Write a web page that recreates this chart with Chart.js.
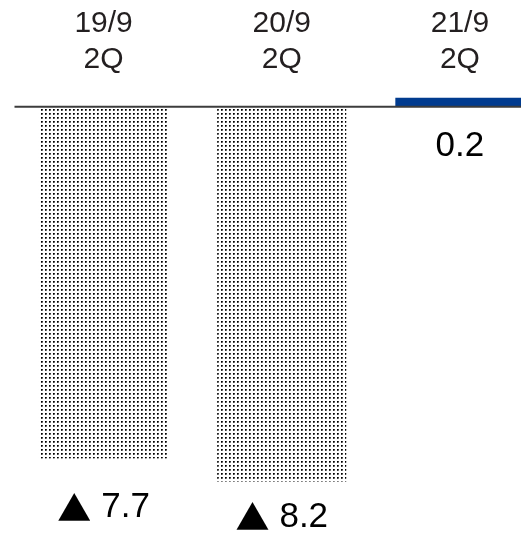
<!DOCTYPE html>
<html>
<head>
<meta charset="utf-8">
<script src="https://cdn.jsdelivr.net/npm/chart.js@4/dist/chart.umd.min.js"></script>
<style>
    html, body { margin: 0; padding: 0; background: #fff; }
    #marco { width: 521px; height: 537px; overflow: hidden; }
</style>
</head>
<body>
<div id="marco"><canvas id="grafico" width="549" height="537"></canvas></div>
<script>
const periodos = [['19/9', '2Q'], ['20/9', '2Q'], ['21/9', '2Q']];
const valores = [-7.7, -8.2, 0.2];
const colores = ['punteado', 'punteado', '#013b8f'];

// trama de puntos para las barras grises
function crearTrama() {
    const c = document.createElement('canvas');
    c.width = 4;
    c.height = 4;
    const g = c.getContext('2d');
    g.fillStyle = '#ffffff';
    g.fillRect(0, 0, 4, 4);
    g.fillStyle = '#000000';
    g.fillRect(1, 1, 1, 1);
    g.fillStyle = '#383838';
    g.fillRect(2, 1, 1, 1);
    g.fillRect(1, 2, 1, 1);
    g.fillStyle = '#808080';
    g.fillRect(2, 2, 1, 1);
    return g.createPattern(c, 'repeat');
}

const fuenteNum = '35px "Liberation Sans", Arial, sans-serif';
const fuenteTri = '34px "Noto Sans CJK JP", "DejaVu Sans", sans-serif';

const etiquetasPlugin = {
    id: 'etiquetas',
    afterDatasetsDraw(chart, args, opts) {
        const ctx = chart.ctx;
        const y = chart.scales.y;
        const area = chart.chartArea;

        // línea del cero
        const y0 = y.getPixelForValue(0);
        ctx.save();
        ctx.strokeStyle = '#3c3c3c';
        ctx.lineWidth = 2;
        ctx.beginPath();
        ctx.moveTo(area.left, y0);
        ctx.lineTo(area.right, y0);
        ctx.stroke();

        // valores de cada barra (negativos con ▲)
        ctx.fillStyle = '#000';
        ctx.textBaseline = 'middle';
        ctx.textAlign = 'left';
        chart.getDatasetMeta(0).data.forEach((barra, i) => {
            const v = valores[i];
            const num = Math.abs(v).toFixed(1);
            const yy = barra.y + opts.desplazamientos[i];
            ctx.font = fuenteNum;
            const wNum = ctx.measureText(num).width;
            if (v < 0) {
                ctx.font = fuenteTri;
                const wTri = ctx.measureText('▲').width;
                const hueco = 10;
                const x0 = barra.x - (wTri + hueco + wNum) / 2;
                ctx.fillText('▲', x0, yy);
                ctx.font = fuenteNum;
                ctx.fillText(num, x0 + wTri + hueco, yy);
            } else {
                ctx.fillText(num, barra.x - wNum / 2, yy);
            }
        });
        ctx.restore();
    }
};

const trama = crearTrama();

new Chart(document.getElementById('grafico'), {
    type: 'bar',
    data: {
        labels: periodos,
        datasets: [{
            data: valores,
            backgroundColor: colores.map(c => c === 'punteado' ? trama : c),
            borderWidth: 0,
            barPercentage: 0.725,
            categoryPercentage: 1
        }]
    },
    options: {
        responsive: false,
        animation: false,
        devicePixelRatio: 1,
        layout: { padding: { top: 0, left: 14.5, right: 0, bottom: 19 } },
        plugins: {
            legend: { display: false },
            tooltip: { enabled: false },
            etiquetas: { desplazamientos: [49, 36, 49] }
        },
        scales: {
            x: {
                position: 'top',
                grid: { display: false, drawTicks: false },
                border: { display: false },
                ticks: {
                    padding: 6,
                    color: '#231f20',
                    font: { size: 30, family: '"Liberation Sans", Arial, sans-serif', lineHeight: '36px' }
                }
            },
            y: {
                display: false,
                min: -9,
                max: 0.5
            }
        }
    },
    plugins: [etiquetasPlugin]
});
</script>
</body>
</html>
